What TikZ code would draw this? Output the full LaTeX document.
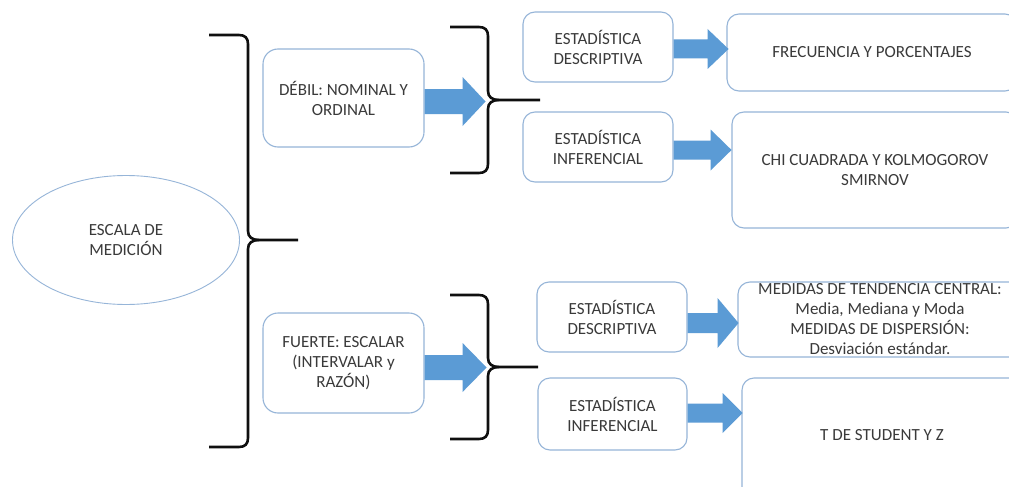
\documentclass[tikz,border=0pt]{standalone}
\usepackage{fontspec}
\setmainfont{Carlito}
\usetikzlibrary{shapes.geometric,calc}

\definecolor{boxline}{RGB}{150,181,216}
\definecolor{arrowfill}{RGB}{91,155,213}
\definecolor{txt}{RGB}{58,58,58}
\definecolor{bracecol}{RGB}{15,15,15}

% block arrow: anchor, vertical offset, length, shaft half-height, head half-height, head length
\newcommand\blockarrow[6]{%
  \fill[arrowfill] ($(#1)+(0,#2)$) ++(0,-#4) -- ++({#3-#6},0) -- ++(0,{#4-#5})
    -- ++(#6,#5) -- ++(-#6,#5) -- ++(0,{#4-#5}) -- ++({#6-#3},0) -- cycle;}

% curly brace opening to the left: arm x, spine x, tip x, top y, middle y, bottom y
\newcommand\curlybrace[6]{%
  \draw[bracepen] (#1,#4) -- ({#2-9},#4) .. controls ({#2-3},#4) and (#2,{#4+3}) .. (#2,{#4+9})
    -- (#2,{#5-9}) .. controls (#2,{#5-3}) and ({#2+4},#5) .. ({#2+11},#5) -- (#3,#5);
  \draw[bracepen] ({#2+11},#5) .. controls ({#2+4},#5) and (#2,{#5+3}) .. (#2,{#5+9})
    -- (#2,{#6-9}) .. controls (#2,{#6-3}) and ({#2-3},#6) .. ({#2-9},#6) -- (#1,#6);}

\begin{document}
\begin{tikzpicture}[x=1pt,y=-1pt,
  font=\fontsize{17}{20}\selectfont,
  box/.style={draw=boxline, line width=1.1pt, rounded corners=12pt, inner sep=0pt,
    align=center, text=txt},
  label/.style={inner sep=0pt, align=center, text=txt},
  bracepen/.style={draw=bracecol, line width=2.6pt, line join=round}]
\clip (0,0) rectangle (1009,487);
\fill[white] (0,0) rectangle (1009,487);

% root
\node[ellipse, draw=boxline, line width=0.9pt, inner sep=0pt, minimum width=227,
  minimum height=129, align=center, text=txt] (root) at (126,240) {ESCALA DE\\MEDICIÓN};

% scale types
\node[box, rounded corners=15pt, minimum width=161, minimum height=98] (deb) at (343.5,98)
  {DÉBIL: NOMINAL Y\\ORDINAL};
\node[box, rounded corners=15pt, minimum width=161, minimum height=100] (fue) at (343.5,363)
  {FUERTE: ESCALAR\\(INTERVALAR y\\RAZÓN)};

% statistics boxes
\node[box, minimum width=150, minimum height=70] (ed1) at (598,47) {ESTADÍSTICA\\DESCRIPTIVA};
\node[box, minimum width=150, minimum height=70] (ei1) at (598,147) {ESTADÍSTICA\\INFERENCIAL};
\node[box, minimum width=150, minimum height=70] (ed2) at (612,317) {ESTADÍSTICA\\DESCRIPTIVA};
\node[box, minimum width=149, minimum height=72] (ei2) at (612.5,414) {ESTADÍSTICA\\INFERENCIAL};

% tests and measures
\node[box, minimum width=290, minimum height=77] (fre) at (872,52.5) {FRECUENCIA Y PORCENTAJES};
\node[box, minimum width=286, minimum height=116] (chi) at (875,170) {CHI CUADRADA Y KOLMOGOROV\\SMIRNOV};
\node[box, minimum width=284, minimum height=75] (med) at (880,319.5)
  {MEDIDAS DE TENDENCIA CENTRAL:\\Media, Mediana y Moda\\MEDIDAS DE DISPERSIÓN:\\Desviación estándar.};
\node[box, minimum width=300, minimum height=140] (tst) at (892,448) {};
\node[label] (tstl) at (882,435) {T DE STUDENT Y Z};

% braces
\curlybrace{209}{248}{298}{35}{240}{447}
\curlybrace{450}{488}{540}{27}{100}{173}
\curlybrace{450}{488}{538}{295}{367}{439}

% block arrows
\blockarrow{deb.east}{3.5}{61}{12.5}{24.5}{23}
\blockarrow{fue.east}{4.5}{62}{12.5}{24.5}{24}
\blockarrow{ed1.east}{2}{55}{9.5}{20}{21}
\blockarrow{ei1.east}{3}{58}{9.5}{20.5}{21}
\blockarrow{ed2.east}{6}{51}{10}{25}{21}
\blockarrow{ei2.east}{-1}{55}{9.5}{20}{20}
\end{tikzpicture}
\end{document}
